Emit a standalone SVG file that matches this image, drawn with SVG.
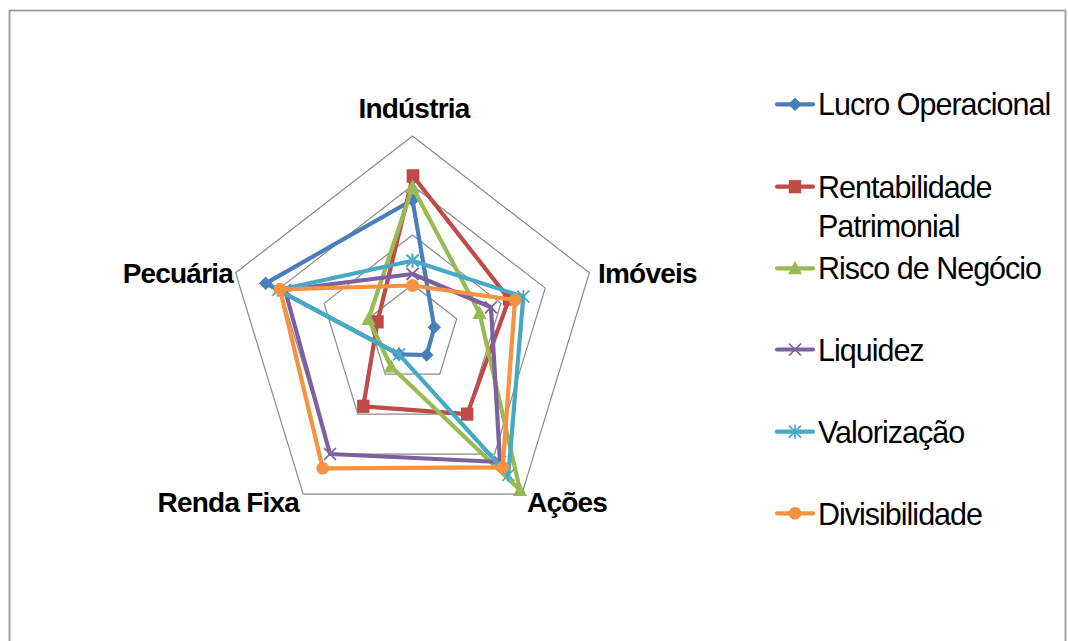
<svg xmlns="http://www.w3.org/2000/svg" width="1068" height="641" viewBox="0 0 1068 641">
<style>
.grid{fill:none;stroke:#8a8a8a;stroke-width:1.2}
.s{fill:none;stroke-width:4.2;stroke-linejoin:round;stroke-linecap:round}
.ax{font-family:"Liberation Sans",Arial,sans-serif;font-weight:bold;font-size:28px;letter-spacing:-0.8px;fill:#000}
.lg{font-family:"Liberation Sans",Arial,sans-serif;font-size:30.5px;letter-spacing:-1px;fill:#000}
.blue{stroke:#4A7EBB}.red{stroke:#BE4B48}.green{stroke:#98B954}.purple{stroke:#7D60A0}.teal{stroke:#46AAC5}.orange{stroke:#F69240}
</style>
<defs>
<marker id="mDia" markerUnits="userSpaceOnUse" viewBox="-7 -7 14 14" markerWidth="14" markerHeight="14" refX="0" refY="0" orient="0" overflow="visible"><path d="M0,-6.8 L6.8,0 L0,6.8 L-6.8,0Z" fill="#4A7EBB"/></marker>
<marker id="mSq" markerUnits="userSpaceOnUse" viewBox="-7 -7 14 14" markerWidth="14" markerHeight="14" refX="0" refY="0" orient="0" overflow="visible"><rect x="-6.2" y="-6.6" width="12.4" height="13.2" fill="#BE4B48"/></marker>
<marker id="mTri" markerUnits="userSpaceOnUse" viewBox="-7 -7 14 14" markerWidth="14" markerHeight="14" refX="0" refY="0" orient="0" overflow="visible"><path d="M0,-7.5 L7,6 L-7,6Z" fill="#98B954"/></marker>
<marker id="mX" markerUnits="userSpaceOnUse" viewBox="-7 -7 14 14" markerWidth="14" markerHeight="14" refX="0" refY="0" orient="0" overflow="visible"><path d="M-6,-6 L6,6 M6,-6 L-6,6" stroke="#7D60A0" stroke-width="1.7"/></marker>
<marker id="mAst" markerUnits="userSpaceOnUse" viewBox="-7 -7 14 14" markerWidth="14" markerHeight="14" refX="0" refY="0" orient="0" overflow="visible"><path d="M-6,-6 L6,6 M6,-6 L-6,6 M0,-7 L0,7" stroke="#46AAC5" stroke-width="1.7"/></marker>
<marker id="mCir" markerUnits="userSpaceOnUse" viewBox="-7 -7 14 14" markerWidth="14" markerHeight="14" refX="0" refY="0" orient="0" overflow="visible"><circle r="6.3" fill="#F69240"/></marker>
</defs>
<rect x="0" y="0" width="1068" height="641" fill="#fff"/>
<rect x="9.5" y="10.5" width="1056" height="650" fill="none" stroke="#9a9a9a" stroke-width="1.8"/>

<g id="grid">
<polygon class="grid" points="412.5,136 589.4,272.8 521.8,494.2 303.2,494.2 235.6,272.8"/>
<polygon class="grid" points="412.5,185.5 545.2,288.1 494.5,454.2 330.5,454.2 279.8,288.1"/>
<polygon class="grid" points="412.5,235 500.9,303.4 467.2,414.1 357.8,414.1 324.1,303.4"/>
<polygon class="grid" points="412.5,284.5 456.7,318.7 439.8,374.1 385.2,374.1 368.3,318.7"/>
</g>

<g id="axis-labels">
<text id="lbl-industria" class="ax" x="414" y="117.5" text-anchor="middle">Indústria</text>
<text id="lbl-imoveis" class="ax" x="598" y="283">Imóveis</text>
<text id="lbl-acoes" class="ax" x="527" y="512">Ações</text>
<text id="lbl-rendafixa" class="ax" x="299" y="512" text-anchor="end">Renda Fixa</text>
<text id="lbl-pecuaria" class="ax" x="233" y="283" text-anchor="end">Pecuária</text>
</g>

<g id="series">
<polygon id="s-lucro" class="s blue" marker-start="url(#mDia)" marker-mid="url(#mDia)" marker-end="url(#mDia)" points="412.5,200 434.3,327.3 426.7,355 399,354.3 265.7,283.3"/>
<polygon id="s-rent" class="s red" marker-start="url(#mSq)" marker-mid="url(#mSq)" marker-end="url(#mSq)" points="413,176 509,299 467.2,414.1 363.3,406.3 377.5,321.8"/>
<polygon id="s-risco" class="s green" marker-start="url(#mTri)" marker-mid="url(#mTri)" marker-end="url(#mTri)" points="412.5,187 479.5,313 520,490 391,366.5 368.5,319"/>
<polygon id="s-liq" class="s purple" marker-start="url(#mX)" marker-mid="url(#mX)" marker-end="url(#mX)" points="412.5,274 491,307.3 500,462 330,454 285,290"/>
<polygon id="s-val" class="s teal" marker-start="url(#mAst)" marker-mid="url(#mAst)" marker-end="url(#mAst)" points="412.5,260.7 523.3,296.7 508.3,475 399,354.3 278,290"/>
<polygon id="s-div" class="s orange" marker-start="url(#mCir)" marker-mid="url(#mCir)" marker-end="url(#mCir)" points="412.5,285.5 515,300 502.7,467.3 322.7,468.3 280,289.3"/>
</g>

<g id="legend">
<g id="leg-lucro"><polyline class="s blue" points="777,104.3 795,104.3 813,104.3" marker-mid="url(#mDia)"/><text class="lg" x="818" y="115">Lucro Operacional</text></g>
<g id="leg-rent"><polyline class="s red" points="777,186.7 795,186.7 813,186.7" marker-mid="url(#mSq)"/><text class="lg" x="818" y="197.7">Rentabilidade</text><text class="lg" x="818" y="236.7">Patrimonial</text></g>
<g id="leg-risco"><polyline class="s green" points="777,268.3 795,268.3 813,268.3" marker-mid="url(#mTri)"/><text class="lg" x="818" y="279.3">Risco de Negócio</text></g>
<g id="leg-liq"><polyline class="s purple" points="777,349.5 795,349.5 813,349.5" marker-mid="url(#mX)"/><text class="lg" x="818" y="361">Liquidez</text></g>
<g id="leg-val"><polyline class="s teal" points="777,431.7 795,431.7 813,431.7" marker-mid="url(#mAst)"/><text class="lg" x="818" y="442.7">Valorização</text></g>
<g id="leg-div"><polyline class="s orange" points="777,513.3 795,513.3 813,513.3" marker-mid="url(#mCir)"/><text class="lg" x="818" y="525">Divisibilidade</text></g>
</g>
</svg>
